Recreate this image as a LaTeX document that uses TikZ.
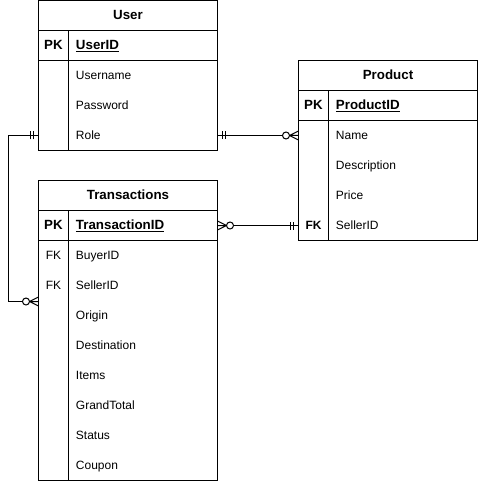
\documentclass[tikz,border=0pt]{standalone}
\usepackage{fontspec}
\setmainfont{Liberation Sans}
\usetikzlibrary{fit}

\tikzset{
  px/.style={x=0.75pt, y=-0.75pt},
  header/.style={draw, anchor=north west, minimum width=134.25pt, minimum height=22.5pt,
    inner sep=0pt, outer sep=0pt, font=\bfseries, text height=7.2pt, text depth=1.3pt},
  keycell/.style={anchor=north west, minimum width=22.5pt, minimum height=22.5pt,
    inner sep=0pt, outer sep=0pt, text height=7.3pt, text depth=1.2pt},
  field/.style={anchor=north west, minimum width=111.75pt, minimum height=22.5pt,
    inner xsep=5.6pt, inner ysep=0pt, outer sep=0pt, text width=100.55pt, align=left,
    text height=7.3pt, text depth=1.2pt},
  mandone/.pic={\draw (5,-4) -- (5,4) (8,-4) -- (8,4);},
  zeromany/.pic={\draw (0,-4.5) -- (9,0) -- (0,4.5) (0,0) -- (9,0);
    \draw[fill=white] (12.5,0) circle[radius=3.5];}
}

\begin{document}
\begin{tikzpicture}[px, line width=0.75pt, font=\fontsize{9}{11}\selectfont]
    \useasboundingbox (0,0) rectangle (479,481);

    % User table
    \node[header] (user) at (38.5,0.5) {User};
    \node[keycell, draw, font=\bfseries] (user-pk) at (38.5,30.5) {PK};
    \node[field, draw, font=\bfseries] (user-id) at (68.5,30.5) {\underline{UserID}};
    \foreach \f [count=\i] in {Username,Password,Role} {
        \node[keycell] (user-k\i) at (38.5,{30.5+30*\i}) {};
        \node[field] (user-f\i) at (68.5,{30.5+30*\i}) {\f};
    }
    \node[draw, inner sep=0pt, outer sep=0pt, fit=(user-k1)(user-f3)] (user-body) {};
    \draw (user-k1.north east) -- (user-k3.south east);

    % Product table
    \node[header] (prod) at (298.5,60.5) {Product};
    \node[keycell, draw, font=\bfseries] (prod-pk) at (298.5,90.5) {PK};
    \node[field, draw, font=\bfseries] (prod-id) at (328.5,90.5) {\underline{ProductID}};
    \foreach \k/\f [count=\i] in {/Name,/Description,/Price,\textbf{FK}/SellerID} {
        \node[keycell] (prod-k\i) at (298.5,{90.5+30*\i}) {\k};
        \node[field] (prod-f\i) at (328.5,{90.5+30*\i}) {\f};
    }
    \node[draw, inner sep=0pt, outer sep=0pt, fit=(prod-k1)(prod-f4)] (prod-body) {};
    \draw (prod-k1.north east) -- (prod-k4.south east);

    % Transactions table
    \node[header] (trans) at (38.5,180.5) {Transactions};
    \node[keycell, draw, font=\bfseries] (trans-pk) at (38.5,210.5) {PK};
    \node[field, draw, font=\bfseries] (trans-id) at (68.5,210.5) {\underline{TransactionID}};
    \foreach \k/\f [count=\i] in {FK/BuyerID,FK/SellerID,/Origin,/Destination,/Items,
        /GrandTotal,/Status,/Coupon} {
        \node[keycell] (trans-k\i) at (38.5,{210.5+30*\i}) {\k};
        \node[field] (trans-f\i) at (68.5,{210.5+30*\i}) {\f};
    }
    \node[draw, inner sep=0pt, outer sep=0pt, fit=(trans-k1)(trans-f8)] (trans-body) {};
    \draw (trans-k1.north east) -- (trans-k8.south east);

    % Relationships
    \coordinate (trans-in) at (38.5,301.5);
    \draw (user-k3.west) -- ++(-30.5,0) |- (trans-in);
    \pic[rotate=180] at (user-k3.west) {mandone};
    \pic[rotate=180] at (trans-in) {zeromany};

    \draw (user-f3.east) -- (prod-k1.west);
    \pic at (user-f3.east) {mandone};
    \pic[rotate=180] at (prod-k1.west) {zeromany};

    \draw (trans-id.east) -- (prod-k4.west);
    \pic at (trans-id.east) {zeromany};
    \pic[rotate=180] at (prod-k4.west) {mandone};
\end{tikzpicture}
\end{document}
